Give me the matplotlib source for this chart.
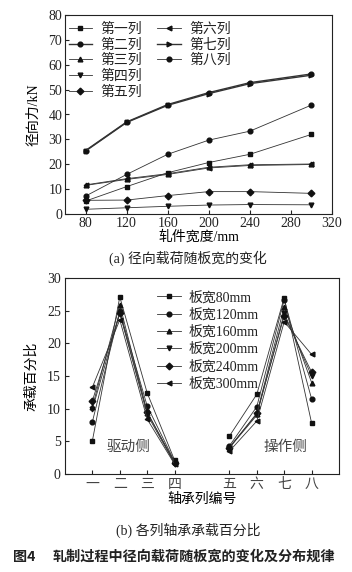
import matplotlib
matplotlib.use("Agg")
import matplotlib.pyplot as plt

plt.rcParams['font.family'] = ['Liberation Serif', 'Noto Sans CJK SC']
plt.rcParams['font.size'] = 10
plt.rcParams['text.color'] = '#222222'
plt.rcParams['axes.edgecolor'] = '#222222'
plt.rcParams['xtick.color'] = '#222222'
plt.rcParams['ytick.color'] = '#222222'

# (a) 径向载荷随板宽的变化
widths = [80, 120, 160, 200, 240, 300]
row_names = ["第一列", "第二列", "第三列", "第四列", "第五列", "第六列", "第七列", "第八列"]
row_markers = ["s", "o", "^", "v", "D", "<", ">", "o"]
radial_force = [
    [5.2, 11.0, 16.6, 20.7, 24.0, 32.0],   # 第一列
    [25.5, 37.0, 44.0, 48.8, 52.8, 56.3],  # 第二列
    [11.7, 14.2, 16.2, 18.8, 19.8, 20.1],  # 第三列
    [1.9, 2.5, 3.1, 3.6, 3.8, 3.7],        # 第四列
    [5.5, 5.6, 7.4, 9.0, 9.0, 8.3],        # 第五列
    [11.5, 13.9, 15.9, 18.5, 19.5, 19.9],  # 第六列
    [25.3, 36.8, 43.7, 48.4, 52.4, 55.8],  # 第七列
    [7.2, 15.9, 24.0, 29.7, 33.3, 43.8],   # 第八列
]

# (b) 各列轴承承载百分比
row_labels = ["一", "二", "三", "四", "五", "六", "七", "八"]
row_pos = [1, 2, 3, 4, 6, 7, 8, 9]
width_names = ["板宽80mm", "板宽120mm", "板宽160mm", "板宽200mm", "板宽240mm", "板宽300mm"]
width_markers = ["s", "o", "^", "v", "D", "<"]
load_pct = [
    [5.1, 27.1, 12.4, 2.1, 5.8, 12.2, 27.0, 7.8],
    [8.0, 24.9, 10.4, 1.9, 4.3, 10.3, 26.7, 11.5],
    [10.3, 25.9, 9.4, 1.8, 4.1, 9.2, 25.6, 14.0],
    [9.9, 24.6, 9.1, 1.6, 4.0, 9.0, 24.6, 15.0],
    [11.2, 24.7, 9.5, 1.7, 4.0, 9.3, 24.2, 15.6],
    [13.3, 23.6, 8.4, 1.5, 3.5, 8.1, 23.3, 18.3],
]

fig = plt.figure(figsize=(3.52, 5.72), dpi=100)
ms = 3.4
leg_kw = dict(frameon=False, fontsize=10, handlelength=1.7, handletextpad=0.6)

# ---- 上图 ----
ax1 = fig.add_axes([65/352, 1-214/572, 267/352, 199/572])
handles = []
for i, vals in enumerate(radial_force):
    lw = 1.0 if i in (1, 6) else 0.6
    h, = ax1.plot(widths, vals, color='#333333', lw=lw, marker=row_markers[i],
                  markersize=ms, markerfacecolor='#111111', markeredgecolor='#111111')
    handles.append(h)
ax1.set_xlim(60, 320)
ax1.set_ylim(0, 80)
ax1.set_xticks(range(80, 321, 40))
ax1.set_yticks(range(0, 81, 10))
ax1.tick_params(direction='in', length=3, labelsize=10, pad=2)
ax1.set_xlabel("轧件宽度/mm", fontsize=10, labelpad=0)
ax1.set_ylabel("径向力/kN", fontsize=10, labelpad=6)
# 两个图例: 左列五项, 右列三项
leg_a = ax1.legend(handles[:5], row_names[:5], loc='upper left',
                   bbox_to_anchor=(-0.015, 1.0), labelspacing=0.18,
                   borderaxespad=0.15, **leg_kw)
ax1.add_artist(leg_a)
ax1.legend(handles[5:], row_names[5:], loc='upper left',
           bbox_to_anchor=(0.316, 1.0), labelspacing=0.18,
           borderaxespad=0.15, **leg_kw)

fig.text(188/352, 1-258/572, "(a) 径向载荷随板宽的变化", ha='center', va='center', fontsize=10)

# ---- 下图 ----
ax2 = fig.add_axes([65/352, 1-474/572, 274/352, 196/572])
for j, vals in enumerate(load_pct):
    for seg in (slice(0, 4), slice(4, 8)):
        ax2.plot(row_pos[seg], vals[seg], color='#333333', lw=0.6,
                 marker=width_markers[j], markersize=ms,
                 markerfacecolor='#111111', markeredgecolor='#111111',
                 label=width_names[j] if seg.start == 0 else None)
ax2.set_xlim(0, 10)
ax2.set_ylim(0, 30)
ax2.set_xticks(row_pos)
ax2.set_xticklabels(row_labels, fontsize=10, color='#444444')
ax2.set_yticks(range(0, 31, 5))
ax2.tick_params(direction='in', length=3, labelsize=10, pad=3)
ax2.set_xlabel("轴承列编号", fontsize=10, labelpad=1)
ax2.set_ylabel("承载百分比", fontsize=10, labelpad=6)
ax2.text(2.3, 4.1, "驱动侧", ha='center', va='center', fontsize=10.5, color='#444444')
ax2.text(8.05, 4.1, "操作侧", ha='center', va='center', fontsize=10.5, color='#444444')
ax2.legend(loc='upper left', bbox_to_anchor=(0.303, 0.98), labelspacing=0.28,
           borderaxespad=0.25, **leg_kw)

fig.text(188/352, 1-530/572, "(b) 各列轴承承载百分比", ha='center', va='center', fontsize=10)
cap_font = ['Noto Sans CJK SC', 'DejaVu Sans']
fig.text(13/352, 1-557/572, "图4", ha='left', va='center', fontsize=10.2,
         family=cap_font, fontweight='bold')
fig.text(53/352, 1-557/572, "轧制过程中径向载荷随板宽的变化及分布规律",
         ha='left', va='center', fontsize=10.2, family=cap_font, fontweight='bold')

fig.savefig("out.png", dpi=100)
